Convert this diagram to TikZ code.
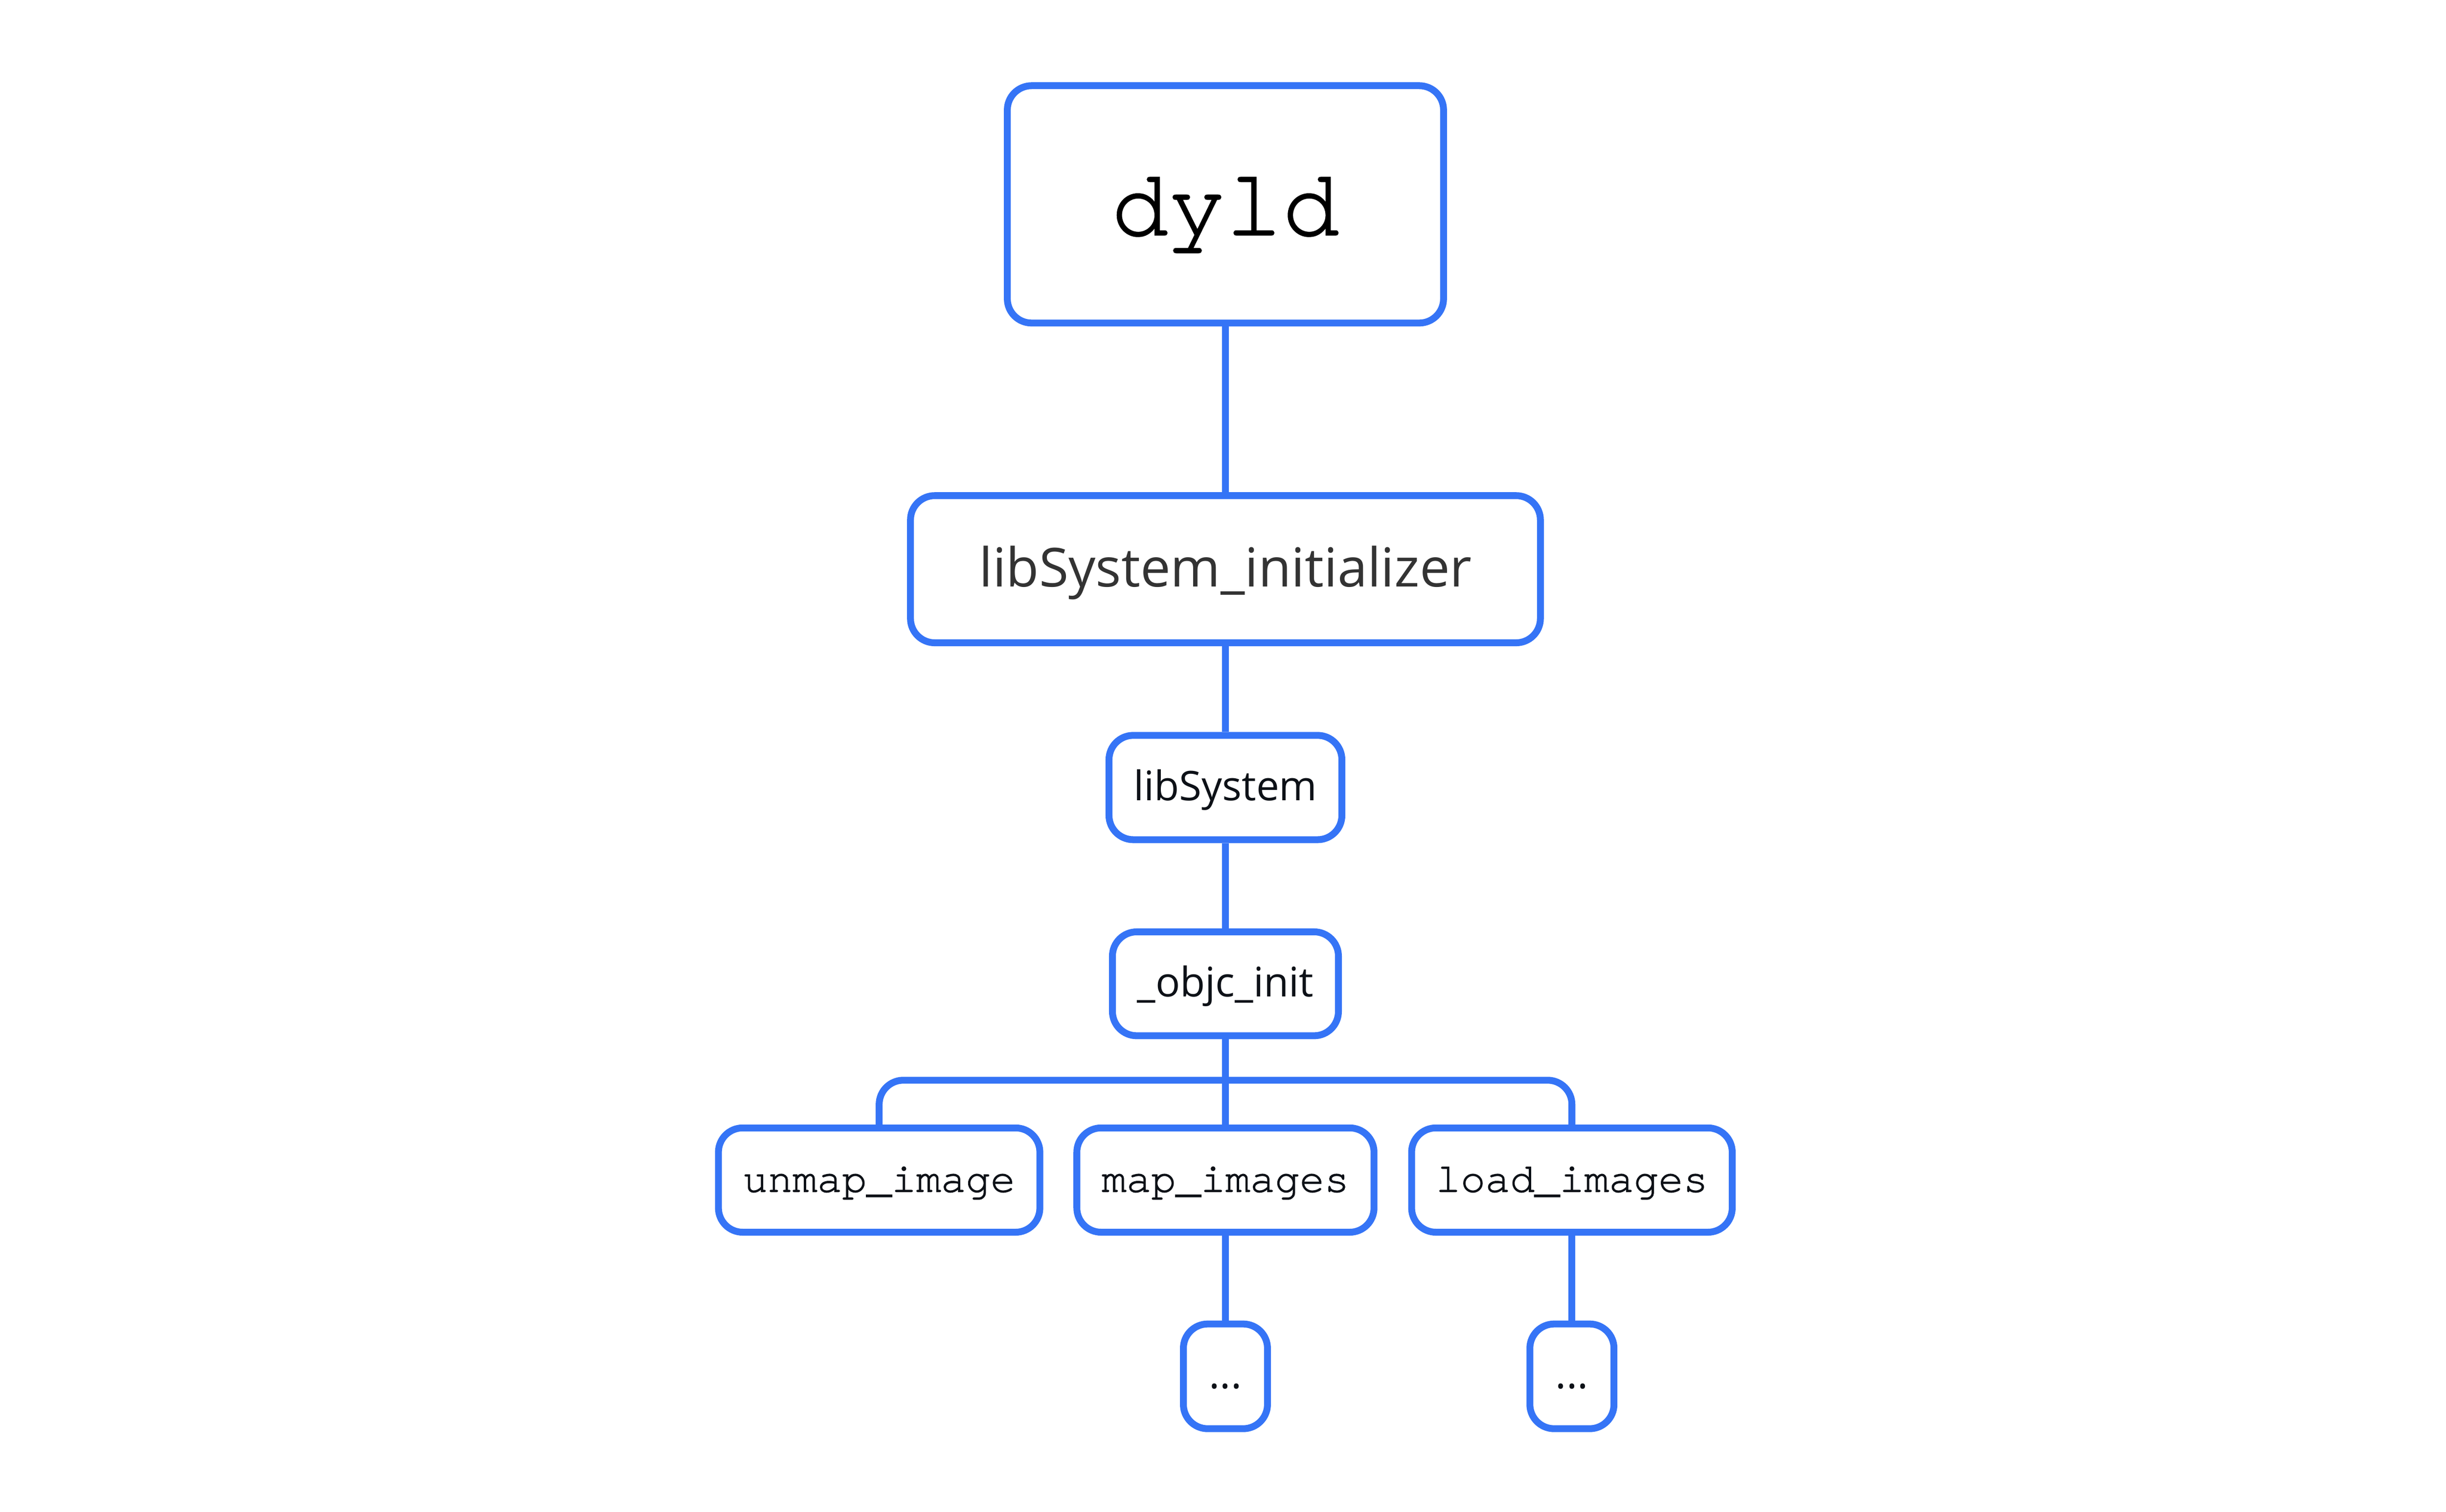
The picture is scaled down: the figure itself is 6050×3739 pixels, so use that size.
\documentclass[tikz,border=0pt]{standalone}
\usepackage{fontspec}
\setmainfont{Open Sans}
\newfontfamily\monof[FakeBold=1.5]{TeX Gyre Cursor}
\definecolor{bl}{HTML}{3574F6}
\definecolor{tx}{HTML}{0D1117}
\definecolor{tg}{HTML}{333333}
\begin{document}
\begin{tikzpicture}[x=0.25pt,y=-0.25pt,
  box/.style={draw=bl, line width=4.25pt, rounded corners=15pt, rectangle,
    inner sep=0pt, fill=white, text=tx, align=center, text depth=0pt},
  conn/.style={draw=bl, line width=4.25pt},
  bigmono/.style={box, text=black, font=\monof\fontsize{58.75pt}{70pt}\selectfont, text height=37.75pt},
  bigsans/.style={box, text=tg, font=\fontsize{33.25pt}{40pt}\selectfont, text height=21.5pt},
  sans/.style={box, font=\fontsize{25.25pt}{30pt}\selectfont, text height=16pt},
  mono/.style={box, font=\monof\fontsize{25.5pt}{30pt}\selectfont, text height=14.5pt},
  dots/.style={box, font=\fontsize{25.25pt}{30pt}\selectfont, text height=15pt}
]
\useasboundingbox (0,0) rectangle (6050,3739);
\node[bigmono, minimum width=269.75pt, minimum height=146.75pt] (dyld) at (3031,505.5) {dyld};
\node[bigsans, minimum width=389.5pt, minimum height=91pt] (init) at (3031,1408) {libSystem\_initializer};
\node[sans, minimum width=144pt, minimum height=64.5pt] (libsys) at (3031,1948) {libSystem};
\node[sans, minimum width=139.75pt, minimum height=64.25pt] (objc) at (3031,2433.5) {\_objc\_init};
\node[mono, minimum width=198.75pt, minimum height=64.5pt] (unmap) at (2174.5,2919) {unmap\_image};
\node[mono, minimum width=183.75pt, minimum height=64.5pt] (map) at (3031,2919) {map\_images};
\node[mono, minimum width=198.25pt, minimum height=64.5pt] (load) at (3888,2919) {load\_images};
\node[dots, minimum width=52pt, minimum height=64.75pt] (d1) at (3031,3404.5) {...};
\node[dots, minimum width=52pt, minimum height=64.75pt] (d2) at (3888,3404.5) {...};
\coordinate (bus) at (3031,2672);
\draw[conn] (dyld.south) -- (init.north);
\draw[conn] (init.south) -- (libsys.north);
\draw[conn] (libsys.south) -- (objc.north);
\draw[conn] (objc.south) -- (map.north);
\draw[conn, rounded corners=15pt] (unmap.north) |- (bus) -| (load.north);
\draw[conn] (map.south) -- (d1.north);
\draw[conn] (load.south) -- (d2.north);
\end{tikzpicture}
\end{document}
